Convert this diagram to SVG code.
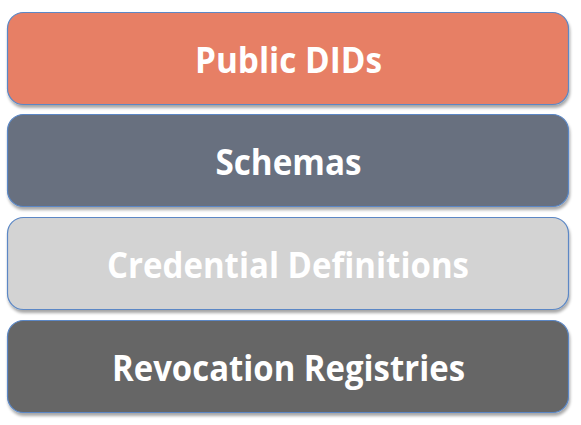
<svg xmlns="http://www.w3.org/2000/svg" width="581" height="425" viewBox="0 0 581 425">
  <defs>
    <filter id="shadow" x="-5%" y="-10%" width="110%" height="130%">
      <feGaussianBlur in="SourceAlpha" stdDeviation="1.8"/>
      <feOffset dx="1" dy="3" result="b"/>
      <feComponentTransfer><feFuncA type="linear" slope="0.35"/></feComponentTransfer>
      <feMerge><feMergeNode/><feMergeNode in="SourceGraphic"/></feMerge>
    </filter>
  </defs>
  <style>
    .box { stroke: #5b87c5; stroke-width: 1.2; filter: url(#shadow); }
    .label { font-family: "Open Sans", "Liberation Sans", sans-serif; font-weight: bold; font-size: 35px; fill: #ffffff; text-anchor: middle; }
  </style>
  <rect width="581" height="425" fill="#ffffff"/>
  <g id="public-dids">
    <rect class="box" x="7.5" y="12.5" width="561" height="92" rx="16" fill="#e77f65"/>
    <text class="label" x="288.5" y="73" textLength="187" lengthAdjust="spacingAndGlyphs">Public DIDs</text>
  </g>
  <g id="schemas">
    <rect class="box" x="7.5" y="114.5" width="561" height="92" rx="16" fill="#67707f"/>
    <text class="label" x="288.5" y="175" textLength="146" lengthAdjust="spacingAndGlyphs">Schemas</text>
  </g>
  <g id="credential-definitions">
    <rect class="box" x="7.5" y="217.5" width="561" height="92" rx="16" fill="#d3d3d3"/>
    <text class="label" x="288" y="278" textLength="362" lengthAdjust="spacingAndGlyphs">Credential Definitions</text>
  </g>
  <g id="revocation-registries">
    <rect class="box" x="7.5" y="320.5" width="561" height="92" rx="16" fill="#666666"/>
    <text class="label" x="288.5" y="381" textLength="353" lengthAdjust="spacingAndGlyphs">Revocation Registries</text>
  </g>
</svg>
